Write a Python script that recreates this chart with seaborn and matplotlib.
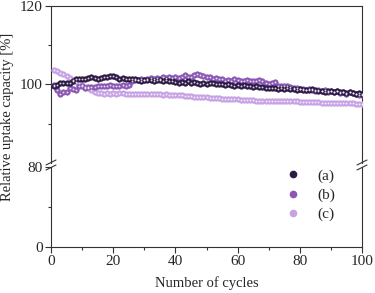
import numpy as np
import pandas as pd
import matplotlib
matplotlib.use('Agg')
import matplotlib.pyplot as plt
import seaborn as sns
from matplotlib.lines import Line2D

cycles = list(range(1, 101))

series_a = [99.5, 99.8, 100.3, 100.3, 100.4, 100.5, 100.8, 101.3, 101.4, 101.5,
            101.5, 101.6, 101.8, 101.6, 101.4, 101.7, 101.8, 102.0, 102.2, 102.1,
            102.0, 101.5, 101.7, 101.5, 101.3, 101.5, 101.4, 101.2, 101.0, 101.2,
            101.1, 101.2, 101.0, 101.1, 101.2, 101.0, 101.1, 100.8, 100.9, 100.6,
            100.5, 100.7, 100.5, 100.8, 100.4, 100.6, 100.3, 100.0, 100.3, 100.2,
            100.4, 100.3, 100.1, 100.2, 100.0, 99.9, 100.1, 99.8, 99.7, 99.9,
            99.7, 99.8, 99.6, 99.7, 99.4, 99.5, 99.3, 99.4, 99.2, 99.0,
            99.1, 99.0, 98.9, 99.1, 98.9, 99.0, 98.9, 98.8, 98.6, 98.8,
            98.5, 98.7, 98.6, 98.8, 98.5, 98.3, 98.4, 98.2, 98.4, 98.3,
            98.1, 98.3, 98.0, 98.2, 97.9, 98.0, 97.8, 97.6, 97.8, 97.7]

series_b = [99.8, 98.5, 97.6, 98.0, 98.1, 99.2, 98.8, 98.6, 99.7, 99.5,
            99.2, 99.3, 99.4, 99.4, 99.5, 99.5, 99.7, 99.6, 99.8, 99.7,
            99.7, 99.6, 99.8, 99.7, 99.8, 101.0, 101.1, 101.2, 101.3, 101.2,
            101.4, 101.6, 101.5, 101.7, 101.5, 101.8, 101.6, 101.8, 101.6, 101.9,
            101.7, 101.8, 102.3, 102.0, 101.8, 102.4, 102.8, 102.3, 102.1, 101.8,
            102.0, 101.5, 101.7, 101.4, 101.3, 101.0, 101.1, 101.0, 101.3, 101.1,
            100.9, 101.0, 101.1, 100.8, 101.0, 100.8, 101.1, 101.0, 100.3, 100.0,
            100.4, 100.6, 99.5, 99.7, 99.5, 99.6, 99.3, 99.2, 99.0, 98.8,
            98.9, 98.6, 98.8, 98.7, 98.4, 98.5, 98.3, 98.5, 98.2, 98.4,
            98.0, 98.3, 97.8, 98.1, 97.7, 98.2, 97.9, 97.5, 97.4, 97.2]

series_c = [103.8, 103.5, 103.0, 102.6, 102.2, 101.7, 101.2, 100.7, 100.3, 99.8,
            99.4, 99.0, 98.6, 98.2, 97.8, 97.8, 97.7, 97.8, 97.7, 97.8,
            97.7, 97.8, 97.8, 97.7, 97.7, 97.7, 97.6, 97.7, 97.6, 97.6,
            97.6, 97.5, 97.6, 97.5, 97.5, 97.4, 97.5, 97.4, 97.4, 97.3,
            97.2, 97.2, 97.1, 97.1, 97.0, 96.9, 96.9, 96.8, 96.8, 96.7,
            96.6, 96.6, 96.5, 96.5, 96.4, 96.4, 96.3, 96.3, 96.2, 96.2,
            96.1, 96.1, 96.0, 96.0, 96.0, 95.9, 95.9, 95.9, 95.9, 95.9,
            95.9, 95.8, 95.8, 95.8, 95.8, 95.7, 95.7, 95.7, 95.7, 95.6,
            95.6, 95.6, 95.5, 95.5, 95.5, 95.5, 95.4, 95.4, 95.4, 95.4,
            95.4, 95.3, 95.3, 95.3, 95.2, 95.2, 95.2, 95.1, 95.1, 95.1]

labels = ['(a)', '(b)', '(c)']
colors = ['#2c1a45', '#8b57b5', '#c7a2e4']

df = pd.DataFrame({
    'cycle': cycles * 3,
    'capacity': series_a + series_b + series_c,
    'sample': [l for l in labels for _ in cycles],
})

sns.set_style('ticks')
plt.rcParams['font.family'] = ['Liberation Serif', 'DejaVu Serif']
plt.rcParams['font.size'] = 10.5

fig = plt.figure(figsize=(3.75, 2.93), dpi=100)
W, H = 375.0, 293.0
left, right = 51 / W, 362 / W
ax_top = fig.add_axes([left, 1 - 163 / H, right - left, (163 - 6) / H])
ax_bot = fig.add_axes([left, 1 - 247 / H, right - left, (247 - 167) / H])

# plot in reverse order so (a) ends up on top like the original
for ax in (ax_top, ax_bot):
    for lab, col in zip(labels[::-1], colors[::-1]):
        sub = df[df['sample'] == lab]
        sns.scatterplot(data=sub, x='cycle', y='capacity', ax=ax, color=col,
                        s=16, edgecolor=col, linewidth=0.4, legend=False, zorder=3)
        ax.scatter(sub['cycle'], sub['capacity'], s=1.8, color='white',
                   alpha=0.8, linewidths=0, zorder=4)

ax_top.set_xlim(0, 100)
ax_bot.set_xlim(0, 100)
ax_top.set_ylim(80, 120)
ax_bot.set_ylim(0, 80)

ax_top.set_yticks([100, 120])
ax_top.set_yticks([90, 110], minor=True)
ax_top.set_xticks([])
ax_bot.set_yticks([0, 80])
ax_bot.set_yticks([40], minor=True)
ax_bot.set_xticks(range(0, 101, 20))
ax_bot.set_xticks(range(10, 100, 20), minor=True)

for ax in (ax_top, ax_bot):
    ax.set_xlabel('')
    ax.set_ylabel('')
    ax.tick_params(which='major', direction='out', length=4, width=0.8,
                   labelsize=11, pad=2, color='#333333')
    ax.tick_params(which='minor', direction='out', length=2, width=0.8,
                   color='#333333')
    for sp in ax.spines.values():
        sp.set_linewidth(0.8)
        sp.set_color('#333333')

ax_top.spines['bottom'].set_visible(False)
ax_bot.spines['top'].set_visible(False)
ax_top.tick_params(axis='x', which='both', bottom=False, labelbottom=False)

# break marks
yb = 1 - 165 / H
for xb in (left, right):
    for dy in (-2.5 / H, 2.5 / H):
        fig.add_artist(Line2D([xb - 5 / W, xb + 5 / W],
                              [yb + dy - 2.5 / H, yb + dy + 2.5 / H],
                              color='#333333', linewidth=0.8))

handles = [Line2D([], [], marker='o', linestyle='', color=c, markersize=4.5)
           for c in colors]
ax_bot.legend(handles, labels, loc='upper left', bbox_to_anchor=(0.735, 1.05),
              frameon=False, fontsize=11, handletextpad=1.1, labelspacing=0.35,
              handlelength=1.0, borderaxespad=0)

fig.text(0.019, 0.60, 'Relative uptake capacity [%]', rotation=90,
         ha='center', va='center', fontsize=10.5)
fig.text((left + right) / 2, 0.034, 'Number of cycles', ha='center',
         va='center', fontsize=10.5)

fig.savefig('out.png', dpi=100)
